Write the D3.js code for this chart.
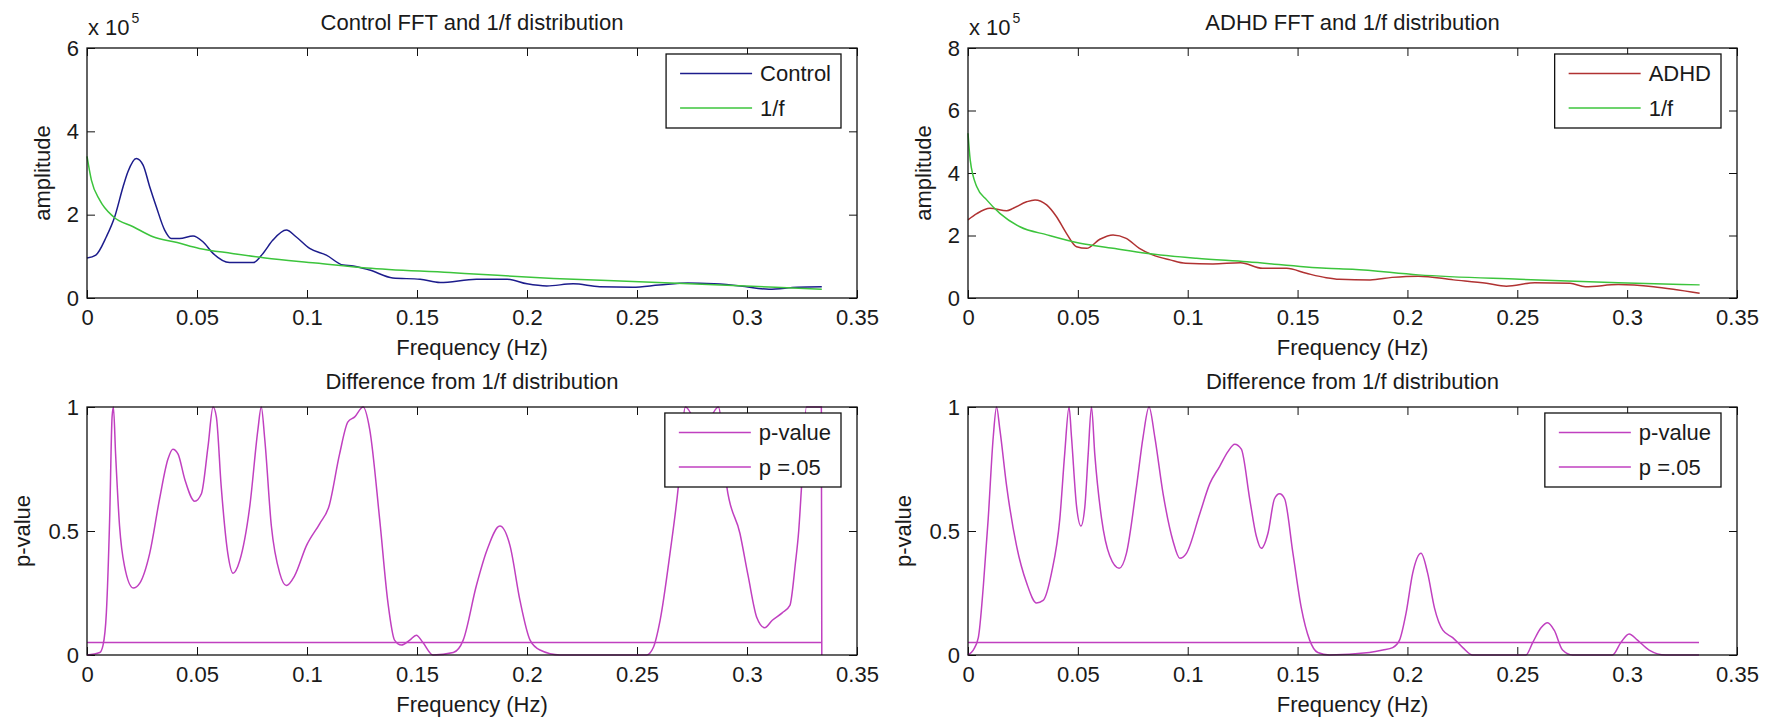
<!DOCTYPE html>
<html>
<head>
<meta charset="utf-8">
<script src="https://cdn.jsdelivr.net/npm/d3@7"></script>
<style>
  body { margin: 0; background: #fff; }
  svg text { font-family: "Liberation Sans", Arial, sans-serif; fill: #1a1a1a; }
</style>
</head>
<body>
<svg id="chart" width="1769" height="723"></svg>
<script>
// Frequency axis ticks (Hz)
const freqTicks = [0, 0.05, 0.1, 0.15, 0.2, 0.25, 0.3, 0.35];
const controlAmpTicks = [0, 2, 4, 6];
const adhdAmpTicks = [0, 2, 4, 6, 8];
const pTicks = [0, 0.5, 1];

// Control FFT (amplitude in units of 10^5)
const controlFreq = [0, 0.004, 0.0088, 0.0126, 0.0164, 0.0186, 0.0224, 0.0255, 0.0285, 0.0315,
  0.0353, 0.0383, 0.0421, 0.0482, 0.0527, 0.0573, 0.0648, 0.0755, 0.08, 0.0845, 0.0906, 0.095,
  0.1012, 0.1088, 0.1164, 0.121, 0.1285, 0.139, 0.1514, 0.1605, 0.177, 0.191, 0.2, 0.209, 0.221,
  0.233, 0.248, 0.26, 0.273, 0.285, 0.297, 0.31, 0.323, 0.334];
const controlAmp = [0.96, 1.03, 1.47, 1.95, 2.67, 3.03, 3.35, 3.19, 2.67, 2.19,
  1.63, 1.43, 1.43, 1.49, 1.35, 1.07, 0.85, 0.85, 1.07, 1.39, 1.63, 1.47,
  1.19, 1.03, 0.79, 0.77, 0.67, 0.48, 0.45, 0.37, 0.45, 0.45, 0.34, 0.29, 0.34,
  0.27, 0.26, 0.31, 0.36, 0.34, 0.29, 0.21, 0.26, 0.27];

// Control 1/f fit
const controlFitFreq = [0, 0.002, 0.0058, 0.012, 0.021, 0.03, 0.041, 0.051, 0.066, 0.081,
  0.104, 0.127, 0.165, 0.178, 0.212, 0.251, 0.288, 0.334];
const controlFit = [3.4, 2.83, 2.35, 1.95, 1.71, 1.47, 1.33, 1.19, 1.07, 0.96,
  0.84, 0.72, 0.61, 0.57, 0.47, 0.39, 0.31, 0.21];

// ADHD FFT (amplitude in units of 10^5)
const adhdFreq = [0, 0.004, 0.01, 0.0176, 0.0206, 0.0267, 0.0305, 0.0358, 0.0403, 0.0448,
  0.0494, 0.054, 0.06, 0.066, 0.072, 0.078, 0.084, 0.092, 0.099, 0.1115, 0.124, 0.134,
  0.145, 0.154, 0.163, 0.169, 0.183, 0.193, 0.205, 0.221, 0.236, 0.245, 0.258, 0.274,
  0.281, 0.296, 0.312, 0.321, 0.333];
const adhdAmp = [2.5, 2.7, 2.87, 2.79, 2.87, 3.08, 3.14, 2.98, 2.6, 2.07,
  1.64, 1.59, 1.88, 2.02, 1.91, 1.59, 1.38, 1.22, 1.11, 1.09, 1.13, 0.95,
  0.95, 0.79, 0.65, 0.6, 0.58, 0.66, 0.7, 0.58, 0.47, 0.38, 0.49, 0.47,
  0.36, 0.43, 0.36, 0.28, 0.15];

// ADHD 1/f fit
const adhdFitFreq = [0, 0.001, 0.004, 0.0085, 0.0145, 0.0236, 0.036, 0.051, 0.066, 0.081,
  0.104, 0.127, 0.163, 0.175, 0.205, 0.251, 0.296, 0.333];
const adhdFit = [5.27, 4.42, 3.56, 3.14, 2.71, 2.28, 2.02, 1.75, 1.59, 1.43,
  1.27, 1.16, 0.95, 0.92, 0.74, 0.6, 0.49, 0.42];

// Control p-values
const controlPFreq = [0, 0.0058, 0.0073, 0.0088, 0.0103, 0.0114, 0.012, 0.013, 0.0148, 0.017,
  0.021, 0.024, 0.0285, 0.033, 0.0368, 0.039, 0.0414, 0.0444, 0.049, 0.052, 0.055, 0.0573,
  0.0588, 0.061, 0.064, 0.0664, 0.0694, 0.074, 0.0777, 0.0792, 0.0808, 0.0838, 0.0876, 0.0906,
  0.0944, 0.0997, 0.1058, 0.11, 0.1148, 0.1186, 0.1217, 0.1255, 0.1285, 0.133, 0.1368, 0.1398,
  0.1429, 0.1467, 0.1497, 0.1527, 0.1573, 0.1665, 0.171, 0.177, 0.1817, 0.1877, 0.1923, 0.1968,
  0.2014, 0.2059, 0.215, 0.2544, 0.2574, 0.2605, 0.265, 0.2688, 0.272, 0.2795, 0.287, 0.2908,
  0.2968, 0.3005, 0.3045, 0.308, 0.3115, 0.316, 0.3195, 0.322, 0.3235, 0.3248, 0.327, 0.3338, 0.334];
const controlP = [0, 0.01, 0.04, 0.17, 0.55, 0.96, 1, 0.81, 0.52, 0.36,
  0.27, 0.29, 0.41, 0.63, 0.79, 0.83, 0.81, 0.71, 0.62, 0.65, 0.84, 1,
  0.96, 0.68, 0.41, 0.33, 0.38, 0.6, 0.91, 1, 0.87, 0.52, 0.33, 0.28,
  0.32, 0.44, 0.53, 0.6, 0.81, 0.94, 0.96, 1, 0.91, 0.55, 0.21, 0.06,
  0.04, 0.06, 0.08, 0.05, 0, 0.01, 0.06, 0.28, 0.42, 0.52, 0.44, 0.22,
  0.06, 0.02, 0, 0, 0.03, 0.14, 0.41, 0.68, 1, 0.9, 1, 0.68,
  0.49, 0.32, 0.15, 0.11, 0.14, 0.17, 0.2, 0.37, 0.5, 0.68, 1, 1, 0];

// ADHD p-values
const adhdPFreq = [0, 0.0024, 0.0047, 0.007, 0.0092, 0.0115, 0.013, 0.0145, 0.0176, 0.0221,
  0.0267, 0.0312, 0.0342, 0.038, 0.0418, 0.044, 0.046, 0.0471, 0.0494, 0.0514, 0.0532, 0.0547,
  0.0562, 0.0577, 0.0608, 0.0645, 0.0688, 0.0721, 0.0767, 0.0797, 0.0824, 0.085, 0.0888, 0.0933,
  0.0964, 0.0994, 0.1055, 0.11, 0.1145, 0.1183, 0.1214, 0.1244, 0.1282, 0.1312, 0.1335, 0.1365,
  0.1395, 0.1418, 0.1441, 0.1479, 0.1517, 0.1555, 0.1592, 0.1645, 0.1827, 0.1888, 0.1933, 0.1964,
  0.1994, 0.2024, 0.2062, 0.2092, 0.2123, 0.2161, 0.2206, 0.2252, 0.2297, 0.2539, 0.257, 0.2608,
  0.2638, 0.2668, 0.2706, 0.2752, 0.2933, 0.2971, 0.3009, 0.3047, 0.31, 0.3176, 0.3327];
const adhdP = [0, 0.02, 0.07, 0.28, 0.55, 0.88, 1, 0.91, 0.68, 0.44,
  0.29, 0.21, 0.22, 0.33, 0.55, 0.81, 1, 0.88, 0.6, 0.52, 0.6, 0.81,
  1, 0.81, 0.55, 0.4, 0.35, 0.41, 0.68, 0.88, 1, 0.88, 0.65, 0.46,
  0.39, 0.41, 0.57, 0.69, 0.76, 0.82, 0.85, 0.83, 0.63, 0.48, 0.43, 0.49,
  0.63, 0.65, 0.63, 0.41, 0.19, 0.06, 0.01, 0, 0.01, 0.02, 0.03, 0.06,
  0.17, 0.33, 0.41, 0.33, 0.19, 0.1, 0.07, 0.03, 0, 0, 0.05, 0.11,
  0.13, 0.1, 0.02, 0, 0, 0.05, 0.085, 0.06, 0.02, 0, 0];

// p = .05 threshold lines
const controlThreshFreq = [0, 0.334];
const adhdThreshFreq = [0, 0.3327];
const threshP = [0.05, 0.05];

const blue = "#1c1c8c", green = "#3cc43c", red = "#b03232", magenta = "#c040c0";
const fontSize = 22;

const svg = d3.select("#chart");

function drawPanel(p) {
  const g = svg.append("g").attr("transform", `translate(${p.left},${p.top})`);

  const x = d3.scaleLinear().domain([0, 0.35]).range([0, p.width]);
  const y = d3.scaleLinear().domain([0, d3.max(p.yTicks)]).range([p.height, 0]);

  // Axes with inward ticks on all four sides
  g.append("g")
    .attr("transform", `translate(0,${p.height})`)
    .call(d3.axisBottom(x).tickValues(freqTicks).tickFormat((d) => String(d))
      .tickSizeInner(-8).tickSizeOuter(0).tickPadding(11))
    .call((a) => a.select(".domain").remove());
  g.append("g")
    .call(d3.axisTop(x).tickValues(freqTicks).tickFormat("").tickSizeInner(-8).tickSizeOuter(0))
    .call((a) => a.select(".domain").remove());
  g.append("g")
    .call(d3.axisLeft(y).tickValues(p.yTicks).tickFormat((d) => String(d))
      .tickSizeInner(-8).tickSizeOuter(0).tickPadding(8))
    .call((a) => a.select(".domain").remove());
  g.append("g")
    .attr("transform", `translate(${p.width},0)`)
    .call(d3.axisRight(y).tickValues(p.yTicks).tickFormat("").tickSizeInner(-8).tickSizeOuter(0))
    .call((a) => a.select(".domain").remove());

  g.selectAll(".tick text").style("font-size", fontSize + "px").attr("fill", "#1a1a1a");
  g.selectAll(".tick line").attr("stroke", "#111");

  // Data lines
  const line = d3.line()
    .x((d) => x(d[0]))
    .y((d) => y(d[1]))
    .curve(d3.curveMonotoneX);

  p.series.forEach((s) => {
    g.append("path")
      .datum(d3.zip(s.x, s.y))
      .attr("fill", "none")
      .attr("stroke", s.color)
      .attr("stroke-width", 1.5)
      .attr("d", line);
  });

  // Box
  g.append("rect")
    .attr("width", p.width)
    .attr("height", p.height)
    .attr("fill", "none")
    .attr("stroke", "#111")
    .attr("stroke-width", 1.3);

  // Title and labels
  g.append("text")
    .attr("x", p.width / 2)
    .attr("y", -18)
    .attr("text-anchor", "middle")
    .style("font-size", fontSize + "px")
    .text(p.title);

  g.append("text")
    .attr("x", p.width / 2)
    .attr("y", p.height + 57)
    .attr("text-anchor", "middle")
    .style("font-size", fontSize + "px")
    .text("Frequency (Hz)");

  g.append("text")
    .attr("transform", `translate(${p.yLabelX},${p.height / 2}) rotate(-90)`)
    .attr("text-anchor", "middle")
    .style("font-size", fontSize + "px")
    .text(p.yLabel);

  if (p.exponent) {
    const t = g.append("text")
      .attr("x", 1)
      .attr("y", -13)
      .style("font-size", fontSize + "px")
      .text("x 10");
    t.append("tspan")
      .attr("dx", 2)
      .attr("dy", -12)
      .style("font-size", "14px")
      .text(p.exponent);
  }

  // Legend
  const lg = g.append("g");
  const box = lg.append("rect")
    .attr("fill", "#fff")
    .attr("stroke", "#111")
    .attr("stroke-width", 1.3);
  const rows = [19.5, 54];
  let textW = 0;
  p.series.forEach((s, i) => {
    lg.append("line")
      .attr("x1", 14)
      .attr("x2", 86)
      .attr("y1", rows[i])
      .attr("y2", rows[i])
      .attr("stroke", s.color)
      .attr("stroke-width", 1.5);
    const t = lg.append("text")
      .attr("x", 94)
      .attr("y", rows[i])
      .attr("dy", "0.36em")
      .style("font-size", fontSize + "px")
      .text(s.label);
    textW = Math.max(textW, t.node().getComputedTextLength());
  });
  const legendW = 94 + textW + 10;
  box.attr("width", legendW).attr("height", 74);
  lg.attr("transform", `translate(${p.width - 16 - legendW},6)`);
}

drawPanel({
  left: 87, top: 48, width: 770, height: 250,
  yTicks: controlAmpTicks, exponent: "5",
  title: "Control FFT and 1/f distribution", yLabel: "amplitude", yLabelX: -37,
  series: [
    { x: controlFreq, y: controlAmp, color: blue, label: "Control" },
    { x: controlFitFreq, y: controlFit, color: green, label: "1/f" }
  ]
});

drawPanel({
  left: 968, top: 48, width: 769, height: 250,
  yTicks: adhdAmpTicks, exponent: "5",
  title: "ADHD FFT and 1/f distribution", yLabel: "amplitude", yLabelX: -37,
  series: [
    { x: adhdFreq, y: adhdAmp, color: red, label: "ADHD" },
    { x: adhdFitFreq, y: adhdFit, color: green, label: "1/f" }
  ]
});

drawPanel({
  left: 87, top: 407, width: 770, height: 248,
  yTicks: pTicks,
  title: "Difference from 1/f distribution", yLabel: "p-value", yLabelX: -57,
  series: [
    { x: controlPFreq, y: controlP, color: magenta, label: "p-value" },
    { x: controlThreshFreq, y: threshP, color: magenta, label: "p =.05" }
  ]
});

drawPanel({
  left: 968, top: 407, width: 769, height: 248,
  yTicks: pTicks,
  title: "Difference from 1/f distribution", yLabel: "p-value", yLabelX: -57,
  series: [
    { x: adhdPFreq, y: adhdP, color: magenta, label: "p-value" },
    { x: adhdThreshFreq, y: threshP, color: magenta, label: "p =.05" }
  ]
});
</script>
</body>
</html>
